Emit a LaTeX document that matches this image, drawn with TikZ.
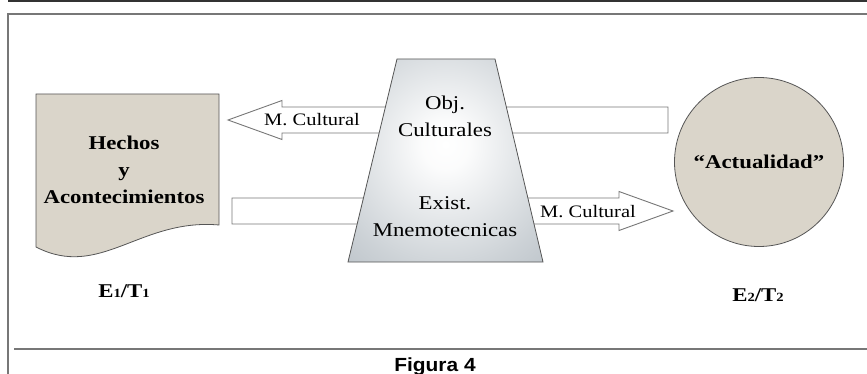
\documentclass[tikz,border=0pt]{standalone}
\usepackage{fontspec}
\setmainfont{Liberation Serif}[FakeStretch=1.17]
\newfontfamily\capfont{Liberation Sans}[FakeStretch=1.1]
\usepackage{xcolor}
\usepackage{tikz}
\usetikzlibrary{positioning, calc}

\definecolor{beige}{HTML}{DAD5CA}
\definecolor{trapgray}{HTML}{A3ADB5}
\definecolor{linegray}{HTML}{777777}
\definecolor{edgegray}{HTML}{555555}

\pgfdeclareradialshading{trapshade}{\pgfpoint{0bp}{4bp}}{%
  color(0bp)=(white); color(6bp)=(white!96!trapgray);
  color(30bp)=(white!45!trapgray); color(55bp)=(trapgray); color(100bp)=(trapgray)}

\newcommand{\sm}[1]{{\fontsize{12.5}{12.5}\selectfont #1}}

\begin{document}
\begin{tikzpicture}[
      x=1pt, y=-1pt,
      framestyle/.style={draw=linegray, line width=1.2pt},
      blockarrow/.style={draw=linegray, fill=white, line width=0.9pt, line join=miter},
      docbox/.style={draw=edgegray, fill=beige, line width=0.8pt},
      trapbox/.style={draw=edgegray, line width=0.8pt, shade, shading=trapshade},
      bold/.style={font=\fontsize{19.5}{27}\selectfont\bfseries, align=center, inner sep=0pt},
      plain/.style={font=\fontsize{19.5}{27}\selectfont, align=center, inner sep=0pt},
      arrlabel/.style={font=\fontsize{17.5}{17.5}\selectfont, inner sep=0pt, anchor=base}
    ]
      \useasboundingbox (0,0) rectangle (867,374);

      \draw[line width=1.6pt, black!80] (8,0.8) -- (867,0.8);
      \draw[framestyle] (867,14) -- (8,14) -- (8,374);
      \draw[framestyle] (14,349) -- (867,349);

      \coordinate (tipL) at (228,120);
      \coordinate (tailL) at (668,120);
      \coordinate (tipR) at (673,211);
      \coordinate (tailR) at (232,211);

      \draw[blockarrow] (tipL) -- ++(54,-19.5) -- ++(0,6.5) -- ($(tailL)+(0,-13)$)
        -- ($(tailL)+(0,13)$) -- ($(tipL)+(54,13)$) -- ++(0,6.5) -- cycle;
      \draw[blockarrow] (tipR) -- ++(-54,-19.5) -- ++(0,6.5) -- ($(tailR)+(0,-13)$)
        -- ($(tailR)+(0,13)$) -- ($(tipR)+(-54,13)$) -- ++(0,6.5) -- cycle;

      \draw[trapbox] (397,59) -- (495,59) -- (543,262) -- (348,262) -- cycle;

      \draw[docbox] (36,94) -- (219,94) -- (219,225)
        .. controls (140,218) and (100,280) .. (36,247) -- cycle;

      \node[circle, draw=edgegray, fill=beige, line width=0.8pt, minimum size=169pt,
            font=\fontsize{19.5}{27}\selectfont\bfseries] (actual) at (759,162) {``Actualidad''};

      \node[bold] (hechos) at (124,169.5) {Hechos\\y\\Acontecimientos};
      \node[plain] (obj) at (445,116.5) {Obj.\\Culturales};
      \node[plain] (exist) at (445,217) {Exist.\\Mnemotecnicas};

      \node[arrlabel] (mcL) at (312,126) {M. Cultural};
      \node[arrlabel] (mcR) at (588,218) {M. Cultural};

      \node[bold, anchor=base] (e1) at (124,297) {E\sm{1}/T\sm{1}};
      \node[bold, anchor=base] (e2) at (758,301) {E\sm{2}/T\sm{2}};

      \node[font=\capfont\fontsize{19}{19}\selectfont\bfseries, anchor=base, inner sep=0pt] (fig) at (435,371) {Figura 4};
    \end{tikzpicture}
\end{document}
